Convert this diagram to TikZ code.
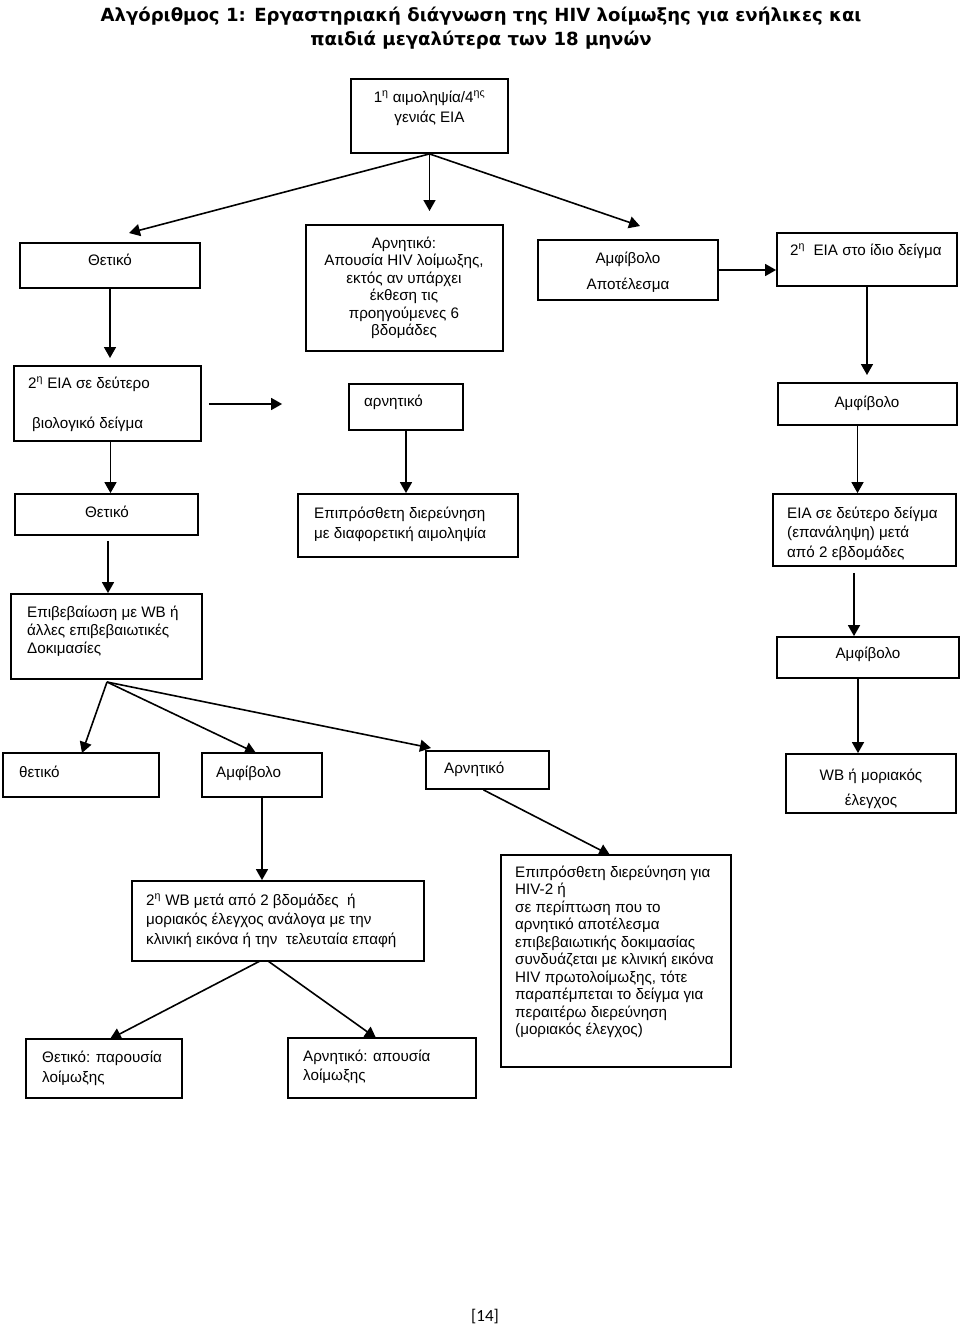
\documentclass[tikz,border=0pt]{standalone}
\usepackage{fontspec}
\setmainfont{Liberation Sans}
\newfontfamily\titlefont{DejaVu Sans}
\newfontfamily\numfont{Carlito}
\usetikzlibrary{arrows.meta,fit,calc}
\begin{document}
\begin{tikzpicture}[x=1pt,y=-1pt,
  box/.style={draw, line width=1.8pt, inner sep=0pt},
  txt/.style={inner sep=0pt, font=\fontsize{15.2}{17.5}\selectfont},
  lt/.style={txt, anchor=base west, align=left},
  ct/.style={txt, anchor=base, align=center},
  arr/.style={line width=1.6pt, -{Triangle[length=11pt,width=12pt]}}]
\useasboundingbox (0,0) rectangle (960,1326);

% title (anchor base = baseline of last line)
\node[inner sep=0pt, anchor=base, align=center, font=\titlefont\bfseries\fontsize{18.1}{24}\selectfont] (title) at (481,45)
  {Αλγόριθμος 1: Εργαστηριακή διάγνωση της HIV λοίμωξης για ενήλικες και\\παιδιά μεγαλύτερα των 18 μηνών};

% boxes (text nodes are placed at the baseline of their last line)
\node[box, fit={(351,79)(508,153)}] (b1) {};
\node[ct, font=\fontsize{15.2}{20}\selectfont] (b1t) at (429.5,122) {1\textsuperscript{η} αιμοληψία/4\textsuperscript{ης}\\γενιάς EIA};

\node[box, fit={(20,243)(200,288)}] (thet1) {};
\node[ct] (thet1t) at (110,265) {Θετικό};

\node[box, fit={(306,225)(503,351)}] (arn1) {};
\node[ct] (arn1t) at (404,335.5) {Αρνητικό:\\Απουσία HIV λοίμωξης,\\εκτός αν υπάρχει\\έκθεση τις\\προηγούμενες 6\\βδομάδες};

\node[box, fit={(538,240)(718,300)}] (amf1) {};
\node[ct, font=\fontsize{15.2}{26}\selectfont] (amf1t) at (628,289) {Αμφίβολο\\Αποτέλεσμα};

\node[box, fit={(777,233)(957,286)}] (eia2) {};
\node[ct] (eia2t) at (866,255) {2\textsuperscript{η}\ \ EIA στο ίδιο δείγμα};

\node[box, fit={(14,366)(201,441)}] (eiab) {};
\node[lt, font=\fontsize{15.2}{40}\selectfont] (eiabt) at (28,428) {2\textsuperscript{η} EIA σε δεύτερο\\\hspace*{4pt}βιολογικό δείγμα};

\node[box, fit={(349,384)(463,430)}] (arn2) {};
\node[lt] (arn2t) at (364,406) {αρνητικό};

\node[box, fit={(778,383)(957,425)}] (amf2) {};
\node[ct] (amf2t) at (867,407) {Αμφίβολο};

\node[box, fit={(15,494)(198,535)}] (thet2) {};
\node[ct] (thet2t) at (107,517) {Θετικό};

\node[box, fit={(298,494)(518,557)}] (epi) {};
\node[lt, font=\fontsize{15.2}{20}\selectfont] (epit) at (314,538) {Επιπρόσθετη διερεύνηση\\με διαφορετική αιμοληψία};

\node[box, fit={(773,494)(956,566)}] (eia3) {};
\node[lt, font=\fontsize{15.2}{19.5}\selectfont] (eia3t) at (787,557) {EIA σε δεύτερο δείγμα\\(επανάληψη) μετά\\από 2 εβδομάδες};

\node[box, fit={(11,594)(202,679)}] (epib) {};
\node[lt, font=\fontsize{15.2}{18}\selectfont] (epibt) at (27,653) {Επιβεβαίωση με WB ή\\άλλες επιβεβαιωτικές\\Δοκιμασίες};

\node[box, fit={(777,637)(959,678)}] (amf3) {};
\node[ct] (amf3t) at (868,658) {Αμφίβολο};

\node[box, fit={(3,753)(159,797)}] (thet3) {};
\node[lt] (thet3t) at (19,777) {θετικό};

\node[box, fit={(202,753)(322,797)}] (amf4) {};
\node[lt] (amf4t) at (216,777) {Αμφίβολο};

\node[box, fit={(426,751)(549,789)}] (arn3) {};
\node[lt] (arn3t) at (444,773) {Αρνητικό};

\node[box, fit={(786,754)(956,813)}] (wb) {};
\node[ct, font=\fontsize{15.2}{25}\selectfont] (wbt) at (871,805) {WB ή μοριακός\\έλεγχος};

\node[box, fit={(132,881)(424,961)}] (wb2) {};
\node[lt, font=\fontsize{15.2}{19.5}\selectfont] (wb2t) at (146,944) {2\textsuperscript{η} WB μετά από 2 βδομάδες\ \ ή\\μοριακός έλεγχος ανάλογα με την\\κλινική εικόνα ή την\ \ τελευταία επαφή};

\node[box, fit={(501,855)(731,1067)}] (big) {};
\node[lt] (bigt) at (515,1034.5) {Επιπρόσθετη διερεύνηση για\\HIV-2 ή\\σε περίπτωση που το\\αρνητικό αποτέλεσμα\\επιβεβαιωτικής δοκιμασίας\\συνδυάζεται με κλινική εικόνα\\HIV πρωτολοίμωξης, τότε\\παραπέμπεται το δείγμα για\\περαιτέρω διερεύνηση\\(μοριακός έλεγχος)};

\node[box, fit={(26,1039)(182,1098)}] (pos) {};
\node[lt, font=\fontsize{15.2}{20}\selectfont] (post) at (42,1082) {Θετικό: παρουσία\\λοίμωξης};

\node[box, fit={(288,1038)(476,1098)}] (neg) {};
\node[lt, font=\fontsize{15.2}{19.5}\selectfont] (negt) at (303,1080.5) {Αρνητικό: απουσία\\λοίμωξης};

\node[inner sep=0pt, anchor=base, font=\numfont\fontsize{17}{20}\selectfont] (page) at (485,1321) {[14]};

% free arrow ends
\coordinate (tA) at (129,233);
\coordinate (tB) at (429.5,211);
\coordinate (tC) at (640,226);
\coordinate (tE) at (110,358);
\coordinate (tF) at (867,375);
\coordinate (sN) at (107,682);
\coordinate (tN) at (82,753);
\coordinate (tO) at (256,753);
\coordinate (tP) at (431,748);
\coordinate (tR) at (610,855);
\coordinate (sS) at (260,961);
\coordinate (sT) at (268,961);
\coordinate (tS) at (110,1039);
\coordinate (tT) at (376,1038);

% connectors
\draw[arr] (b1.south) -- (tA);
\draw[arr] (b1.south) -- (tB);
\draw[arr] (b1.south) -- (tC);
\draw[arr] (amf1.east) -- (amf1.east -| eia2.west);
\draw[arr] (thet1.south) -- (tE);
\draw[arr] (eia2.south) -- (tF);
\draw[arr, shorten <=7pt, shorten >=66pt] (eiab.east |- 0,404) -- (arn2.west |- 0,404);
\draw[arr] (arn2.south) -- (arn2.south |- epi.north);
\draw[arr] ($(eiab.south)+(3,0)$) -- ($(eiab.south |- thet2.north)+(3,0)$);
\draw[arr] ($(amf2.south)+(-10,0)$) -- ($(amf2.south |- eia3.north)+(-10,0)$);
\draw[arr, shorten <=5pt] ($(thet2.south)+(1.5,0)$) -- ($(thet2.south |- epib.north)+(1.5,0)$);
\draw[arr, shorten <=6pt] ($(eia3.south)+(-10.5,0)$) -- ($(eia3.south |- amf3.north)+(-10.5,0)$);
\draw[arr] ($(amf3.south)+(-10,0)$) -- ($(amf3.south |- wb.north)+(-10,0)$);
\draw[arr] (sN) -- (tN);
\draw[arr] (sN) -- (tO);
\draw[arr] (sN) -- (tP);
\draw[arr] (amf4.south) -- (amf4.south |- wb2.north);
\draw[arr] ($(arn3.south)+(-4,0)$) -- (tR);
\draw[arr] (sS) -- (tS);
\draw[arr] (sT) -- (tT);
\end{tikzpicture}
\end{document}
